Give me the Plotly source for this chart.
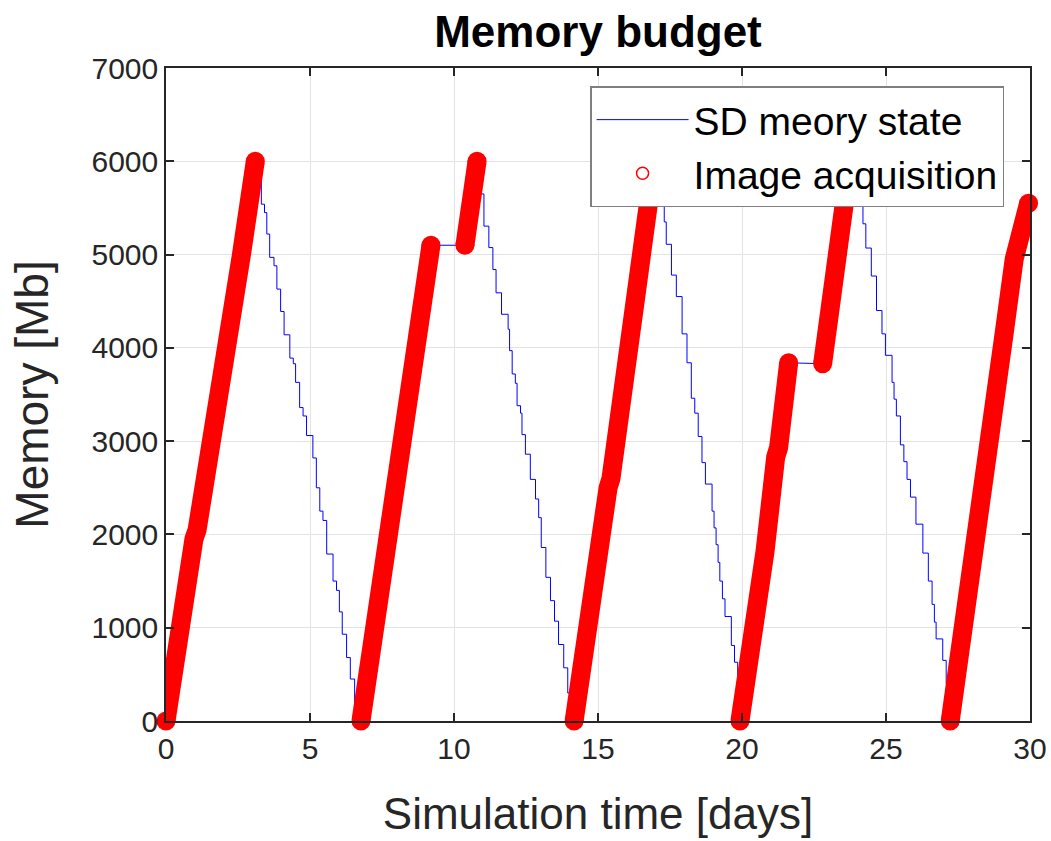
import plotly.graph_objects as go

# image acquisition phases (memory rising)
acq1_x = [0.0, 0.38, 0.50, 0.97, 1.08, 1.50, 1.60, 1.98, 2.08, 2.52, 2.62, 3.10]
acq1_y = [0, 900, 1000, 1950, 2050, 2950, 3050, 3950, 4050, 4900, 5000, 6000]
acq2a_x = [6.77, 7.22, 7.33, 7.78, 7.88, 8.32, 8.42, 8.78, 8.88, 9.20]
acq2a_y = [0, 1000, 1080, 2150, 2230, 3250, 3330, 4250, 4350, 5100]
acq2b_x = [10.38, 10.80]
acq2b_y = [5100, 6000]
acq3_x = [14.17, 14.70, 14.80, 15.35, 15.45, 15.80, 15.90, 16.30, 16.40, 16.95]
acq3_y = [0, 1300, 1400, 2500, 2600, 3550, 3650, 4650, 4750, 6000]
acq4a_x = [19.93, 20.28, 20.38, 20.70, 20.80, 21.17, 21.27, 21.62]
acq4a_y = [0, 720, 820, 1720, 1820, 2830, 2930, 3840]
acq4b_x = [22.80, 23.18, 23.28, 23.75]
acq4b_y = [3830, 4750, 4850, 6000]
acq5_x = [27.23, 27.58, 27.68, 28.08, 28.18, 28.55, 28.65, 29.00, 29.10, 29.45, 29.55, 29.95]
acq5_y = [0, 850, 950, 1950, 2050, 3050, 3150, 4050, 4150, 4950, 5050, 5550]

# downlink phases (memory stepping down)
down1_x = [3.10, 3.13, 3.31, 3.42, 3.50, 3.60, 3.75, 3.85, 3.98, 4.10, 4.30, 4.42, 4.50,
           4.64, 4.76, 4.88, 5.10, 5.22, 5.34, 5.45, 5.58, 5.80, 5.92, 6.02, 6.12, 6.27,
           6.40, 6.55, 6.72]
down1_y = [6000, 5790, 5540, 5450, 5220, 4970, 4880, 4630, 4390, 4140, 3890, 3830, 3630,
           3360, 3270, 3060, 2820, 2500, 2250, 2150, 1790, 1500, 1400, 1170, 930, 680,
           450, 180, 0]
down2_x = [10.80, 10.93, 11.04, 11.21, 11.35, 11.46, 11.65, 11.88, 11.93, 12.02, 12.13,
           12.19, 12.31, 12.36, 12.48, 12.65, 12.83, 12.94, 13.03, 13.19, 13.35, 13.49,
           13.63, 13.81, 13.95, 14.12]
down2_y = [6000, 5650, 5305, 5075, 4840, 4590, 4360, 4200, 3970, 3720, 3620, 3380, 3300,
           3070, 2860, 2590, 2380, 2180, 1860, 1540, 1290, 1070, 820, 570, 300, 0]
down3_x = [16.95, 17.10, 17.24, 17.30, 17.37, 17.55, 17.72, 17.92, 18.09, 18.24, 18.36,
           18.48, 18.61, 18.73, 18.96, 19.03, 19.10, 19.17, 19.23, 19.32, 19.41, 19.63,
           19.74, 19.85, 19.93]
down3_y = [6000, 5800, 5590, 5350, 5110, 4780, 4550, 4150, 3840, 3460, 3300, 3050, 2770,
           2540, 2250, 2070, 1890, 1700, 1500, 1310, 1120, 810, 630, 450, 0]
down4_x = [23.75, 23.90, 24.11, 24.20, 24.30, 24.49, 24.67, 24.86, 24.98, 25.21, 25.28,
           25.36, 25.50, 25.62, 25.73, 25.85, 26.04, 26.28, 26.47, 26.60, 26.68, 26.74,
           26.97, 27.09, 27.20]
down4_y = [6000, 5800, 5590, 5330, 5070, 4770, 4400, 4150, 3920, 3630, 3450, 3270, 2960,
           2780, 2590, 2400, 2110, 1800, 1500, 1250, 1060, 880, 650, 400, 0]

x_ticks = [0, 5, 10, 15, 20, 25, 30]
y_ticks = [0, 1000, 2000, 3000, 4000, 5000, 6000, 7000]

acq = [(acq1_x, acq1_y), (acq2a_x, acq2a_y), (acq2b_x, acq2b_y), (acq3_x, acq3_y),
       (acq4a_x, acq4a_y), (acq4b_x, acq4b_y), (acq5_x, acq5_y)]
down = [(down1_x, down1_y), (down2_x, down2_y), (down3_x, down3_y), (down4_x, down4_y)]

def join(parts):
    xs, ys = [], []
    for px, py in parts:
        xs += px + [None]
        ys += py + [None]
    return xs, ys

# blue line over the rising parts (plateaus included) and the stepping parts
up_x, up_y = join([(acq1_x, acq1_y), (acq2a_x + acq2b_x, acq2a_y + acq2b_y), (acq3_x, acq3_y),
                   (acq4a_x + acq4b_x, acq4a_y + acq4b_y), (acq5_x, acq5_y)])
dn_x, dn_y = join(down)
red_x, red_y = join(acq)
cap_x = [p[0][0] for p in acq] + [p[0][-1] for p in acq]
cap_y = [p[1][0] for p in acq] + [p[1][-1] for p in acq]

font = 'Liberation Sans, Arial, sans-serif'
band = 19
fig = go.Figure()
fig.add_trace(go.Scatter(x=up_x, y=up_y, mode='lines', name='SD meory state',
                         line=dict(color='#0000ff', width=1), legendgroup='sd'))
fig.add_trace(go.Scatter(x=dn_x, y=dn_y, mode='lines', showlegend=False,
                         line=dict(color='#0000ff', width=1, shape='hv'), legendgroup='sd'))
fig.add_trace(go.Scatter(x=red_x, y=red_y, mode='lines', showlegend=False,
                         line=dict(color='#ff0000', width=band)))
fig.add_trace(go.Scatter(x=cap_x, y=cap_y, mode='markers', showlegend=False, cliponaxis=False,
                         marker=dict(color='#ff0000', size=band, line=dict(width=0))))
fig.add_trace(go.Scatter(x=[None], y=[None], mode='markers', name='Image acquisition',
                         marker=dict(symbol='circle-open', color='#ff0000', size=12,
                                     line=dict(width=1.5))))

axis_common = dict(showline=True, linecolor='#262626', linewidth=1.5, mirror='ticks',
                   ticks='inside', ticklen=8, tickwidth=1.5, tickcolor='#262626',
                   showgrid=True, gridcolor='#e3e3e3', gridwidth=1, zeroline=False,
                   automargin=False,
                   tickfont=dict(family=font, size=30, color='#262626'))

fig.update_layout(
    template='none',
    width=1051, height=841,
    margin=dict(l=166, r=21, t=68, b=120, pad=0),
    paper_bgcolor='white', plot_bgcolor='white',
    title=dict(text='<b>Memory budget</b>', x=0.5, xref='paper', xanchor='center',
               y=0.962, yref='container', yanchor='middle',
               font=dict(family=font, size=44, color='black')),
    xaxis=dict(range=[0, 30], tickvals=x_ticks,
               title=dict(text='Simulation time [days]', standoff=34,
                          font=dict(family=font, size=44, color='#262626')),
               **axis_common),
    yaxis=dict(range=[0, 7000], tickvals=y_ticks,
               title=dict(text='Memory [Mb]', standoff=28,
                          font=dict(family=font, size=46, color='#262626')),
               **axis_common),
    legend=dict(x=0.97, y=0.972, xanchor='right', yanchor='top',
                bgcolor='white', bordercolor='#7f7f7f', borderwidth=1.5,
                font=dict(family=font, size=39, color='black'),
                itemwidth=92, tracegroupgap=0),
    showlegend=True,
)

fig.write_html("out.html", config={'displayModeBar': False},
               post_script="document.body.style.margin='0';")
